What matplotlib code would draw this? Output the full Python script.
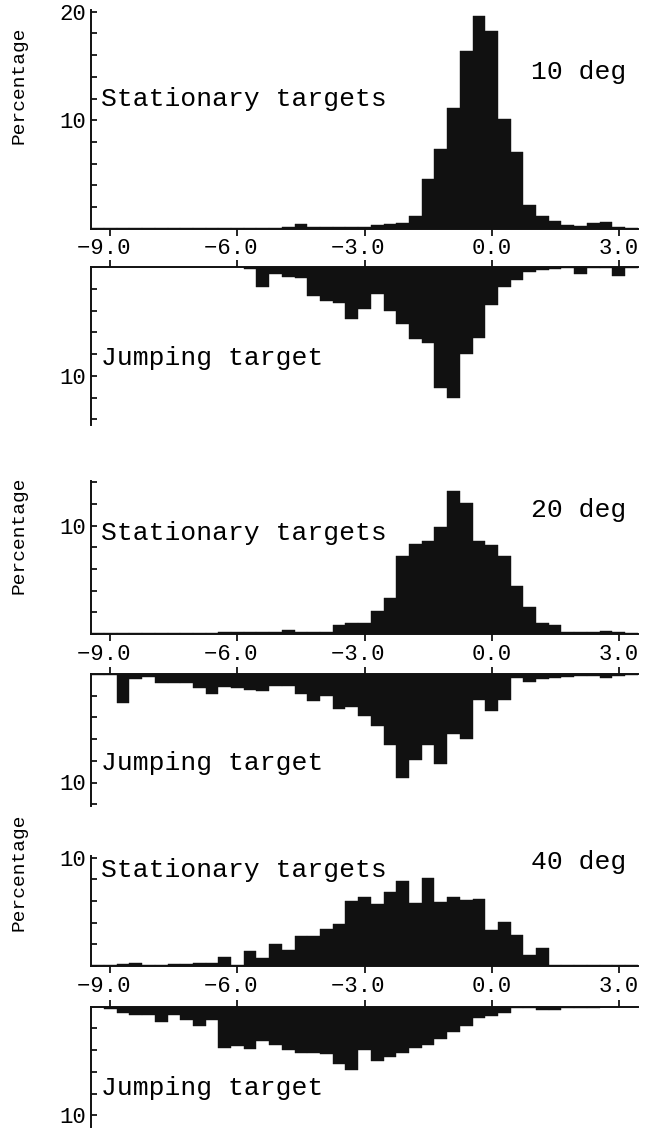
import numpy as np
import matplotlib.pyplot as plt

plt.rcParams['font.family'] = ['Liberation Mono', 'DejaVu Sans Mono']

# bin centres (deg), bin width 0.3
bins = [-9.3, -9.0, -8.7, -8.4, -8.1, -7.8, -7.5, -7.2, -6.9, -6.6, -6.3,
        -6.0, -5.7, -5.4, -5.1, -4.8, -4.5, -4.2, -3.9, -3.6, -3.3, -3.0,
        -2.7, -2.4, -2.1, -1.8, -1.5, -1.2, -0.9, -0.6, -0.3, 0.0, 0.3,
        0.6, 0.9, 1.2, 1.5, 1.8, 2.1, 2.4, 2.7, 3.0, 3.3]

# 10 deg
stat10 = [0.1, 0.1, 0.1, 0.1, 0.1, 0.1, 0.1, 0.1, 0.1, 0.1, 0.1,
          0.1, 0.1, 0.1, 0.1, 0.15, 0.4, 0.15, 0.15, 0.2, 0.2, 0.2,
          0.3, 0.4, 0.5, 1.2, 4.6, 7.3, 11.1, 16.4, 19.6, 18.2, 10.1,
          7.1, 2.2, 1.2, 0.7, 0.3, 0.25, 0.5, 0.6, 0.2, 0.1]
jump10 = [0, 0, 0, 0, 0, 0, 0, 0, 0, 0, 0,
          0, 0.15, 1.8, 0.6, 0.9, 0.95, 2.6, 3.1, 3.3, 4.8, 3.8,
          2.5, 4.0, 5.2, 6.6, 7.0, 11.1, 12.0, 8.0, 6.5, 3.5, 1.8,
          1.2, 0.4, 0.25, 0.2, 0.1, 0.6, 0.1, 0.1, 0.8, 0.1]

# 20 deg
stat20 = [0.05, 0.1, 0.1, 0.1, 0.1, 0.1, 0.1, 0.1, 0.1, 0.1, 0.15,
          0.15, 0.15, 0.2, 0.2, 0.35, 0.2, 0.2, 0.2, 0.85, 1.05, 1.05,
          2.15, 3.3, 7.2, 8.3, 8.6, 9.85, 13.2, 12.1, 8.6, 8.2, 7.2,
          4.4, 2.5, 1.0, 0.85, 0.15, 0.15, 0.2, 0.25, 0.15, 0.1]
jump20 = [0.1, 0.1, 2.7, 0.5, 0.25, 0.85, 0.85, 0.85, 1.3, 1.8, 1.2,
          1.3, 1.45, 1.6, 1.15, 1.15, 1.85, 2.5, 2.05, 3.2, 3.0, 3.9,
          4.8, 6.5, 9.6, 7.9, 6.5, 8.3, 5.5, 6.0, 2.4, 3.45, 2.4,
          0.4, 0.7, 0.45, 0.4, 0.25, 0.2, 0.2, 0.4, 0.2, 0.1]

# 40 deg
stat40 = [0.05, 0.1, 0.15, 0.3, 0.1, 0.1, 0.15, 0.15, 0.25, 0.25, 0.8,
          0.1, 1.4, 0.75, 2.05, 1.45, 2.75, 2.75, 3.45, 3.9, 6.0, 6.4,
          5.7, 6.8, 7.8, 5.8, 8.1, 5.9, 6.4, 6.1, 6.2, 3.35, 4.05,
          2.9, 1.0, 1.7, 0.1, 0.1, 0.1, 0.1, 0.05, 0.05, 0.05]
jump40 = [0.05, 0.2, 0.6, 0.75, 0.75, 1.45, 0.75, 1.2, 1.8, 1.2, 3.8,
          3.65, 3.9, 3.2, 3.55, 4.0, 4.25, 4.3, 4.4, 5.3, 5.8, 4.0,
          5.0, 4.6, 4.3, 3.8, 3.5, 2.95, 2.3, 1.8, 1.05, 0.9, 0.6,
          0.1, 0.15, 0.3, 0.3, 0.15, 0.1, 0.1, 0.05, 0.05, 0.05]

xticks = [-9.0, -6.0, -3.0, 0.0, 3.0]
# trailing space keeps the decimal point over the tick (monospace font)
xticklabels = ['\u22129.0 ', '\u22126.0 ', '\u22123.0 ', '0.0', '3.0']
angles = ['10 deg', '20 deg', '40 deg']

W, H = 647, 1128
fig = plt.figure(figsize=(W / 100, H / 100), dpi=100)

x0, x1 = 91.3, 637.7   # pixel columns of the axes
ink = '#111111'


def make_axes(y_base, ymax, down):
    # y_base: pixel row of the zero line, 10.85 px per percent
    h = ymax * 10.85
    if down:
        top, bot = y_base, y_base + h
    else:
        top, bot = y_base - h, y_base
    ax = fig.add_axes([x0 / W, 1 - bot / H, (x1 - x0) / W, h / H])
    ax.set_xlim(-9.45, 3.45)
    for s in ax.spines.values():
        s.set_linewidth(1.4)
        s.set_color(ink)
    ax.spines['right'].set_visible(False)
    ax.spines['bottom' if down else 'top'].set_visible(False)
    ax.tick_params(axis='y', direction='in', length=4, width=1.2,
                   labelsize=16, pad=4)
    ax.set_xticks(xticks)
    if down:
        ax.set_ylim(ymax, 0)
        ax.xaxis.tick_top()
        ax.tick_params(axis='x', direction='out', length=5, width=1.2,
                       labeltop=False)
    else:
        ax.set_ylim(0, ymax)
        ax.set_xticklabels(xticklabels)
        ax.tick_params(axis='x', direction='out', length=5, width=1.2,
                       labelsize=16, pad=2)
    return ax


def ftext(x, y, s, **kw):
    fig.text(x / W, 1 - y / H, s, va='center', **kw)


panels = [
    (stat10, jump10, 228.7, 20.15, 267.3, 14.5, 72, 99, 358, 85),
    (stat20, jump20, 634.0, 14.1, 674.0, 12.2, 510, 533, 763, 535),
    (stat40, jump40, 966.0, 10.1, 1006.7, 11.1, 862, 870, 1088, 872),
]

for i, (st, jp, yb1, ym1, yb2, ym2, ydeg, ystat, yjump, ypct) in enumerate(panels):
    ax_s = make_axes(yb1, ym1, down=False)
    ax_s.bar(bins, st, width=0.3, color=ink, edgecolor=ink, linewidth=0.3)
    yt = np.arange(0, ym1 + 0.01, 2)
    ax_s.set_yticks(yt)
    ax_s.set_yticklabels(['%d' % v if v in (10, 20) else '' for v in yt])

    ax_j = make_axes(yb2, ym2, down=True)
    ax_j.bar(bins, jp, width=0.3, color=ink, edgecolor=ink, linewidth=0.3)
    yt = np.arange(2, ym2 + 0.01, 2)
    ax_j.set_yticks(yt)
    ax_j.set_yticklabels(['10' if v == 10 else '' for v in yt])

    ftext(531, ydeg, angles[i], fontsize=19, ha='left')
    ftext(101, ystat, 'Stationary targets', fontsize=19, ha='left')
    ftext(101, yjump, 'Jumping target', fontsize=19, ha='left')
    ftext(19, ypct, 'Percentage', fontsize=14, ha='center', rotation=90)

fig.savefig('out.png', dpi=100, facecolor='white')
